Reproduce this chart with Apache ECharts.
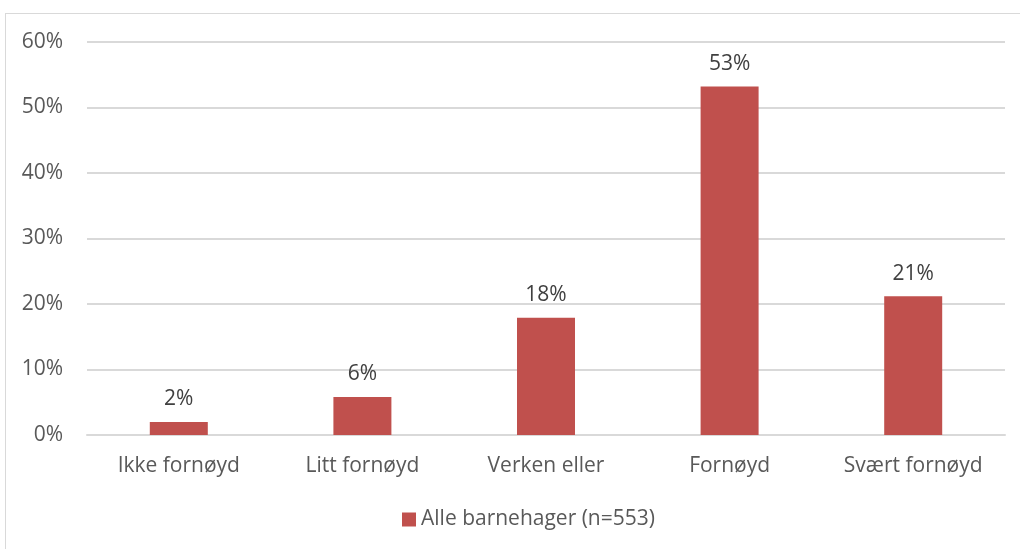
<!DOCTYPE html>
<html>
<head>
<meta charset="utf-8">
<script src="https://cdn.jsdelivr.net/npm/echarts@6/dist/echarts.min.js"></script>
<style>
  html, body { margin: 0; padding: 0; background: #fff; overflow: hidden; }
  #frame { position: absolute; left: 5px; top: 13px; width: 1030px; height: 560px; border: 1px solid #d9d9d9; }
  #main { position: absolute; left: 0; top: 0; width: 1020px; height: 549px; }
</style>
</head>
<body>
<div id="frame"></div>
<div id="main"></div>
<script>
// data
const categories = ["Ikke fornøyd", "Litt fornøyd", "Verken eller", "Fornøyd", "Svært fornøyd"];
const values = [2.0, 5.8, 17.9, 53.2, 21.2];
const seriesName = "Alle barnehager (n=553)";

const textColor = "#595959";
const font = "'Open Sans', 'Noto Sans', sans-serif";
const fs = 21;

const chart = echarts.init(document.getElementById("main"));
const option = {
  animation: false,
  textStyle: { fontFamily: font },
  grid: { left: 87, right: 15, top: 42, bottom: 114 },
  legend: {
    data: [seriesName],
    bottom: 14,
    left: 397,
    itemWidth: 14,
    itemHeight: 14,
    itemGap: 5,
    icon: "rect",
    textStyle: { color: textColor, fontSize: fs, fontFamily: font }
  },
  xAxis: {
    type: "category",
    data: categories,
    axisLine: { lineStyle: { color: "#d9d9d9", width: 2 } },
    axisTick: { show: false },
    axisLabel: { color: textColor, fontSize: fs, margin: 21, fontFamily: font }
  },
  yAxis: {
    type: "value",
    min: 0,
    max: 60,
    interval: 10,
    axisLine: { show: false },
    axisTick: { show: false },
    splitLine: { lineStyle: { color: "#d9d9d9", width: 2 } },
    axisLabel: { color: textColor, fontSize: fs, margin: 24, formatter: "{value}%", fontFamily: font }
  },
  series: [{
    name: seriesName,
    type: "bar",
    data: values,
    barWidth: 58,
    itemStyle: { color: "#c0504d" },
    label: {
      show: true,
      position: "top",
      distance: 12,
      color: "#404040",
      fontSize: fs,
      fontFamily: font,
      formatter: p => Math.round(p.value) + "%"
    }
  }]
};
chart.setOption(option);
</script>
</body>
</html>
